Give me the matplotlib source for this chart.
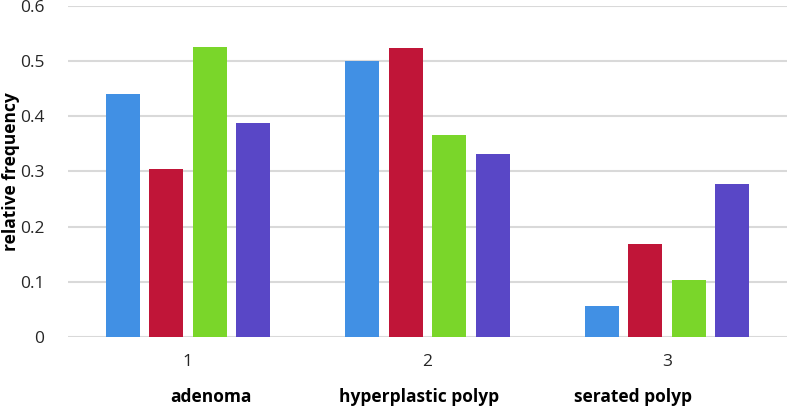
import matplotlib
matplotlib.use("Agg")
import matplotlib.pyplot as plt
import numpy as np

plt.rcParams['font.family'] = ['Open Sans', 'DejaVu Sans']

groups = [1, 2, 3]
group_names = ["adenoma", "hyperplastic polyp", "serated polyp"]
series1 = [0.441, 0.500, 0.056]
series2 = [0.304, 0.524, 0.169]
series3 = [0.525, 0.367, 0.103]
series4 = [0.388, 0.332, 0.277]
yticks = [0, 0.1, 0.2, 0.3, 0.4, 0.5, 0.6]
ytick_labels = ["0", "0.1", "0.2", "0.3", "0.4", "0.5", "0.6"]

colors = ["#4190e4", "#c01538", "#7ad62a", "#5947c6"]

fig = plt.figure(figsize=(7.87, 4.08), dpi=100)
ax = fig.add_axes([68/787, (408-337)/408, 1 - 68/787, 331/408])

x = np.array(groups, dtype=float)
step = 0.181
width = 0.142
for i, (vals, c) in enumerate(zip([series1, series2, series3, series4], colors)):
    ax.bar(x + (i - 1.5) * step, vals, width=width, color=c, zorder=3)

ax.set_xlim(0.5, 3.5)
ax.set_ylim(0, 0.6)
ax.set_yticks(yticks)
ax.set_yticklabels(ytick_labels, fontsize=12.5, color="#262626")
ax.set_xticks(groups)
ax.set_xticklabels([str(g) for g in groups], fontsize=12.5, color="#262626")
ax.tick_params(axis='both', length=0)
ax.tick_params(axis='x', pad=12)
ax.tick_params(axis='y', pad=17)
ax.grid(axis='y', color="#d9d9d9", linewidth=1.5, zorder=0)
for s in ax.spines.values():
    s.set_visible(False)

ax.set_ylabel("relative frequency", fontsize=12.5, fontweight='bold')
ax.yaxis.set_label_coords(-0.067, 0.5)

label_x = [211, 419, 633]
for name, lx in zip(group_names, label_x):
    fig.text(lx/787, 1 - 397/408, name, ha='center', va='center', fontsize=12.5, fontweight='bold', color="#000000")

fig.savefig("out.png", dpi=100)
